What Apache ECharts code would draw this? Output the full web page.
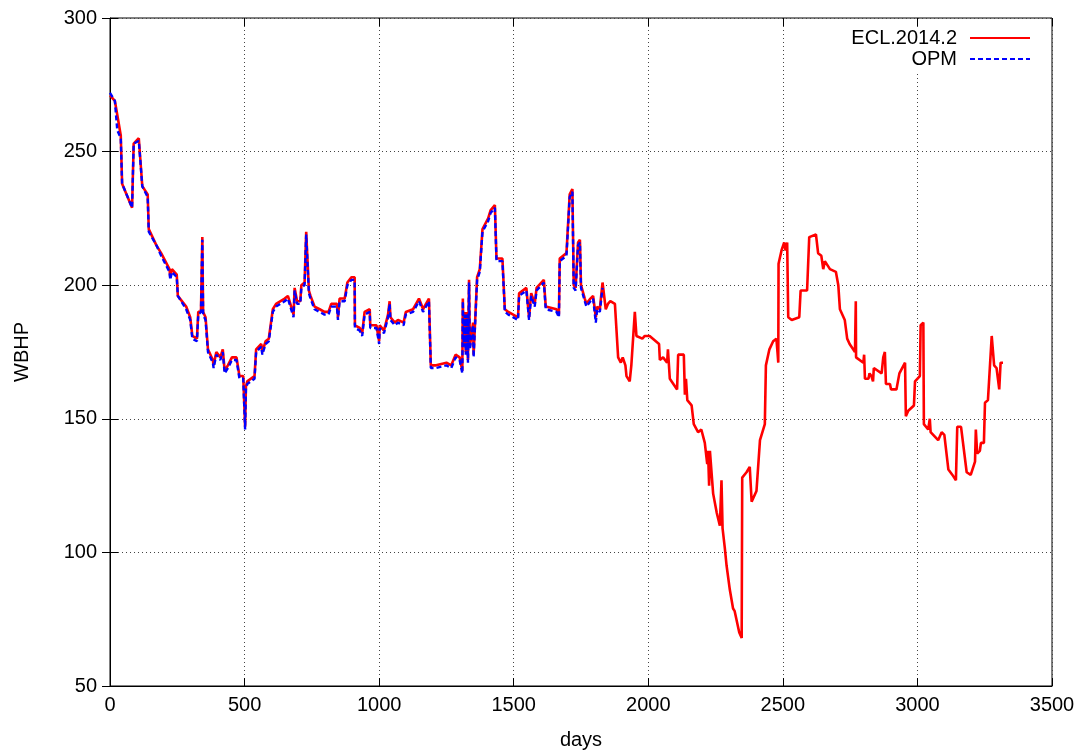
<!DOCTYPE html>
<html><head><meta charset="utf-8">
<script src="https://cdn.jsdelivr.net/npm/echarts@6/dist/echarts.min.js"></script>
<style>html,body{margin:0;padding:0;background:#fff}#c{width:1086px;height:756px}</style>
</head><body><div id="c"></div>
<script>
var xTicks = [0, 500, 1000, 1500, 2000, 2500, 3000, 3500];
var yTicks = [50, 100, 150, 200, 250, 300];
var seriesNames = ['ECL.2014.2', 'OPM'];

var eclDays = [0,18,30,40,45,82,88,107,120,140,144,172,190,221,224,230,248,252,283,298,306,323,328,338,343,346,355,364,382,385,395,410,419,426,438,453,470,481,495,502,505,510,537,543,562,566,578,590,605,617,649,661,667,682,686,695,707,711,723,729,733,739,745,760,779,797,812,822,843,847,853,872,882,897,909,910,928,937,946,965,967,990,1000,1002,1018,1033,1039,1042,1058,1070,1091,1099,1126,1148,1156,1163,1185,1192,1212,1250,1268,1284,1299,1309,1311,1314,1318,1322,1326,1330,1334,1337,1349,1351,1364,1374,1384,1405,1414,1430,1436,1458,1467,1480,1516,1520,1547,1557,1565,1578,1585,1612,1619,1659,1668,1671,1696,1708,1718,1723,1730,1739,1746,1750,1764,1770,1785,1795,1805,1810,1820,1830,1842,1850,1859,1876,1888,1898,1905,1915,1919,1931,1937,1943,1950,1956,1978,1987,2005,2040,2043,2055,2070,2073,2080,2107,2111,2132,2136,2140,2145,2161,2169,2185,2197,2210,2219,2222,2226,2229,2241,2254,2266,2272,2276,2284,2291,2303,2315,2321,2338,2347,2349,2365,2377,2384,2402,2415,2433,2437,2450,2464,2476,2480,2483,2484,2495,2505,2510,2516,2520,2533,2561,2566,2590,2598,2623,2631,2643,2650,2656,2675,2697,2706,2712,2730,2739,2748,2768,2771,2772,2799,2802,2805,2818,2822,2829,2835,2838,2867,2873,2879,2883,2898,2902,2922,2933,2954,2957,2966,2987,2991,3009,3012,3022,3024,3040,3046,3049,3077,3090,3100,3115,3130,3143,3148,3162,3183,3198,3214,3217,3222,3232,3236,3247,3251,3262,3276,3285,3294,3304,3309,3318];
var eclWbhp = [271,269,262,256,238,229,253,255,237,234,221,215,212,206,203,206,204,196,192,188,181,180,190,190,218,190,188,176,172,170,175,173,176,168,170,173,173,166,166,147,162,164,166,176,178,175,179,180,191,193,195,196,194,189,199,194,194,200,201,220,220,198,196,192,191,190,190,193,193,188,195,195,201,203,203,185,184,182,190,191,185,185,179,185,183,189,194,188,186,187,186,190,191,195,193,191,195,170,170,171,170,174,173,168,195,178,190,175,190,172,202,177,186,174,203,206,221,225,228,230,210,210,191,190,188,197,199,188,197,193,199,202,192,191,189,210,212,234,236,200,199,216,217,200,195,193,195,196,188,192,191,201,191,193,194,193,173,171,173,170,166,164,170,170,190,181,180,181,181,178,172,173,171,176,165,161,174,174,159,165,157,155,148,145,146,141,133,138,125,138,122,115,110,127,109,102,95,86,79,78,70,68,128,130,132,119,123,142,148,170,176,179,180,175,171,208,213,216,213,216,188,187,188,198,198,218,219,212,211,206,209,206,205,200,191,187,180,178,175,194,173,171,174,165,165,167,166,164,169,167,173,175,163,163,161,161,167,171,151,153,155,164,166,185,186,148,146,150,145,142,145,144,131,129,127,147,147,130,129,134,146,137,138,141,141,156,157,181,170,169,161,171,171];

var opmDays = [0,18,27,40,45,82,88,107,120,140,144,172,190,221,224,230,248,252,283,298,306,323,328,338,343,346,355,364,382,385,395,410,419,426,438,453,470,481,495,502,505,510,537,543,562,566,578,590,605,617,649,661,667,682,686,695,707,711,723,729,733,739,745,760,779,797,812,822,843,847,853,872,882,897,909,910,928,937,946,965,967,990,1000,1002,1018,1033,1039,1042,1058,1070,1091,1099,1126,1148,1156,1163,1185,1192,1212,1250,1268,1284,1299,1309,1311,1314,1318,1322,1326,1330,1334,1337,1349,1351,1364,1374,1384,1405,1414,1430,1436,1458,1467,1480,1516,1520,1547,1557,1565,1578,1585,1612,1619,1659,1668,1671,1696,1708,1718,1723,1730,1739,1746,1750,1764,1770,1785,1795,1805,1810,1820,1830];
var opmWbhp = [272,269,258,255,238,229,253,254,237,233,220,215,211,205,202,205,203,196,191,187,180,179,189,190,217,189,187,175,171,169,174,172,175,167,169,172,172,165,165,146,161,163,165,175,177,174,178,179,190,192,194,195,193,188,198,193,193,199,200,219,219,197,195,191,190,189,189,192,192,187,194,194,200,202,202,184,183,181,189,190,184,184,178,184,182,188,193,187,185,186,185,189,190,194,192,190,194,169,169,170,169,173,172,167,194,177,189,174,189,171,201,176,185,173,202,205,220,224,227,229,209,209,190,189,187,196,198,187,196,192,198,201,191,190,188,209,211,233,235,199,198,215,216,199,194,192,194,195,186,191,190,199];

function pairs(xs, ys) { return xs.map(function (x, i) { return [x, ys[i]]; }); }

var chart = echarts.init(document.getElementById('c'));
var font = 'Liberation Sans, Arial, sans-serif';
var txt = {color: '#000', fontFamily: font, fontSize: 20};
function plain(v) { return String(v); }
var legendCommon = {right: 50, align: 'right', itemWidth: 60, itemHeight: 14, itemGap: 0,
  padding: [0, 5, 5, 5], backgroundColor: '#fff',
  itemStyle: {opacity: 0}, textStyle: {color: '#000', fontFamily: font, fontSize: 20, padding: [0, 8, 0, 0]}};
chart.setOption({
  animation: false,
  backgroundColor: '#fff',
  grid: {left: 110, right: 34, top: 18, bottom: 70, show: true, borderColor: '#000', borderWidth: 1, backgroundColor: 'transparent'},
  legend: [
    Object.assign({data: [seriesNames[0]], top: 28}, legendCommon),
    Object.assign({data: [seriesNames[1]], top: 49}, legendCommon)
  ],
  xAxis: [{
    type: 'value', min: xTicks[0], max: xTicks[xTicks.length - 1], interval: xTicks[1] - xTicks[0],
    name: 'days', nameLocation: 'middle', nameGap: 44, nameTextStyle: txt,
    axisLine: {show: true, onZero: false, lineStyle: {color: '#000', width: 1}},
    axisTick: {show: true, inside: true, length: 8, lineStyle: {color: '#000'}},
    axisLabel: Object.assign({margin: 9, formatter: plain}, txt),
    splitLine: {show: true, lineStyle: {color: '#444', type: [1, 3], width: 1}}
  }, {
    type: 'value', position: 'top', min: xTicks[0], max: xTicks[xTicks.length - 1], interval: xTicks[1] - xTicks[0],
    axisLine: {show: false}, axisTick: {show: true, inside: true, length: 8, lineStyle: {color: '#000'}},
    axisLabel: {show: false}, splitLine: {show: false}
  }],
  yAxis: [{
    type: 'value', min: yTicks[0], max: yTicks[yTicks.length - 1], interval: yTicks[1] - yTicks[0],
    name: 'WBHP', nameLocation: 'middle', nameGap: 78, nameRotate: 90, nameTextStyle: txt,
    axisLine: {show: true, onZero: false, lineStyle: {color: '#000', width: 1}},
    axisTick: {show: true, inside: true, length: 8, lineStyle: {color: '#000'}},
    axisLabel: Object.assign({margin: 13, formatter: plain}, txt),
    splitLine: {show: true, lineStyle: {color: '#444', type: [1, 3], width: 1}}
  }, {
    type: 'value', position: 'right', min: yTicks[0], max: yTicks[yTicks.length - 1], interval: yTicks[1] - yTicks[0],
    axisLine: {show: false}, axisTick: {show: true, inside: true, length: 8, lineStyle: {color: '#000'}},
    axisLabel: {show: false}, splitLine: {show: false}
  }],
  series: [{
    name: seriesNames[0], type: 'line', data: pairs(eclDays, eclWbhp), symbol: 'none', showSymbol: false,
    lineStyle: {color: '#ff0000', width: 2.6}, itemStyle: {color: '#ff0000'}, z: 2
  }, {
    name: seriesNames[1], type: 'line', data: pairs(opmDays, opmWbhp), symbol: 'none', showSymbol: false,
    lineStyle: {color: '#0000ff', width: 2.4, type: [5, 3]}, itemStyle: {color: '#0000ff'}, z: 3
  }]
});
</script></body></html>
